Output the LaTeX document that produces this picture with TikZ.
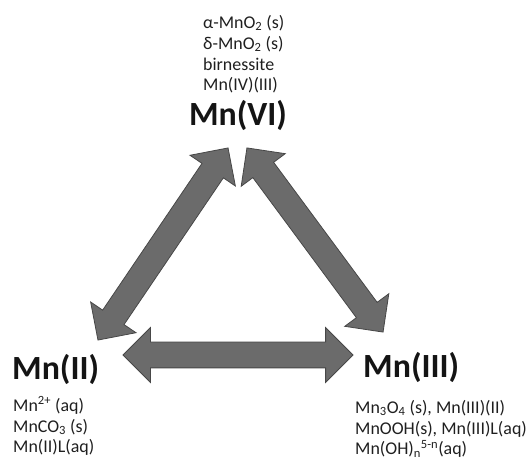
\documentclass[tikz,border=0pt]{standalone}
\usepackage{fontspec}
\setmainfont{Carlito}
\usetikzlibrary{shapes.arrows,positioning}

\begin{document}
\begin{tikzpicture}[x=1bp,y=1bp,
  ox/.style={font=\fontsize{34}{38}\selectfont\bfseries,inner sep=0pt,text=black!92},
  spc/.style={font=\fontsize{18}{21}\selectfont,align=left,inner sep=0pt,text=black!88},
  fatarrow/.style={double arrow,double arrow head extend=14.5bp,inner sep=12.5bp,
    outer sep=0pt,fill=black!58,draw=black!72,line width=0.8pt,sloped}]
  \useasboundingbox (0,0) rectangle (530,462);
  % oxidation states
  \node[ox,anchor=base]        (vi)  at (238,336) {Mn(VI)};
  \node[ox,anchor=base west]   (ii)  at (12,82)   {Mn(II)};
  \node[ox,anchor=base west]   (iii) at (363,84)  {Mn(III)};
  % species (base = last line)
  \node[spc,anchor=base west]  (vis) at (203,371) {α-MnO\textsubscript{2} (s)\\δ-MnO\textsubscript{2} (s)\\birnessite\\Mn(IV)(III)};
  \node[spc,anchor=base west]  (iis) at (13,9)    {Mn\textsuperscript{2+} (aq)\\MnCO\textsubscript{3} (s)\\Mn(II)L(aq)};
  \node[spc,anchor=base west]  (iiis) at (355,7)  {Mn\textsubscript{3}O\textsubscript{4} (s), Mn(III)(II)\\MnOOH(s), Mn(III)L(aq)\\Mn(OH)\textsubscript{n}\textsuperscript{5-n}(aq)};
  % arrow tips
  \coordinate (vi-l)  at (228,314);
  \coordinate (vi-r)  at (247,314);
  \coordinate (ii-t)  at (98,122);
  \coordinate (ii-r)  at (123,107);
  \coordinate (iii-t) at (383,130);
  \coordinate (iii-l) at (353,107);
  \path (ii-t) -- node[fatarrow,minimum height=232bp] (a1) {} (vi-l);
  \path (vi-r) -- node[fatarrow,minimum height=229bp] (a2) {} (iii-t);
  \path (ii-r) -- node[fatarrow,minimum height=230bp] (a3) {} (iii-l);
\end{tikzpicture}
\end{document}
